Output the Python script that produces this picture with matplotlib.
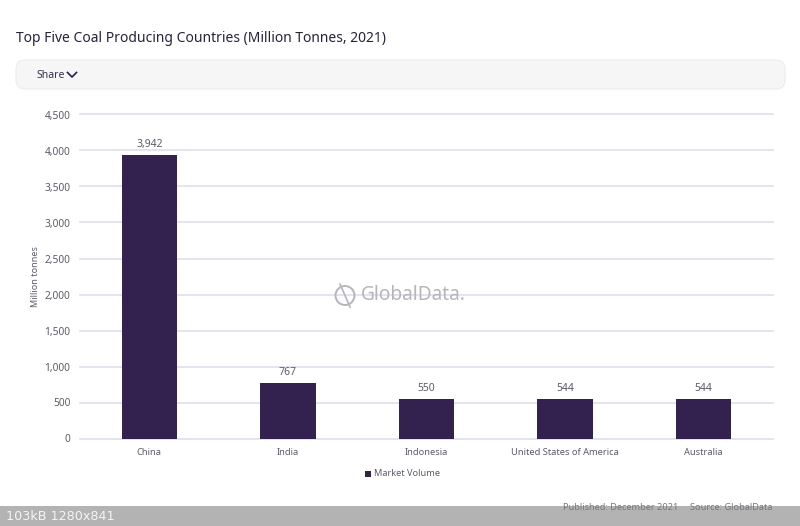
import matplotlib
matplotlib.use('Agg')
import matplotlib.pyplot as plt
from matplotlib.patches import FancyBboxPatch, Rectangle, Circle

countries = ['China', 'India', 'Indonesia', 'United States of America', 'Australia']
volumes = [3942, 767, 550, 544, 544]
value_labels = ['3,942', '767', '550', '544', '544']
yticks = [0, 500, 1000, 1500, 2000, 2500, 3000, 3500, 4000, 4500]
ytick_labels = ['0', '500', '1,000', '1,500', '2,000', '2,500', '3,000', '3,500', '4,000', '4,500']

plt.rcParams['font.family'] = ['Noto Sans', 'DejaVu Sans']
W = 800
H = 526
dark = '#33224f'
grey_text = '#5c5a6b'

fig = plt.figure(figsize=(W/100, H/100), dpi=100)
ax = fig.add_axes([80/W, 1-438.5/H, 693/W, 324/H])

ax.bar(range(5), volumes, width=0.4, color=dark, zorder=3)
for i in range(5):
    ax.annotate(value_labels[i], (i, volumes[i]), xytext=(0, 3.5), textcoords='offset points',
                ha='center', va='bottom', fontsize=7.5, color=grey_text)

ax.set_xlim(-0.5, 4.5)
ax.set_ylim(0, 4500)
ax.set_yticks(yticks)
ax.set_yticklabels(ytick_labels, fontsize=7.3, color=grey_text)
ax.set_xticks(range(5))
ax.set_xticklabels(countries, fontsize=6.7, color=grey_text)
ax.tick_params(axis='both', length=0)
ax.tick_params(axis='y', pad=7)
ax.tick_params(axis='x', pad=7)
ax.grid(axis='y', color='#e0daee', lw=1.1, zorder=1, clip_on=False)
ax.set_axisbelow(True)
for s in ax.spines.values():
    s.set_visible(False)
ax.set_ylabel('Million tonnes', fontsize=6.5, color=grey_text)
ax.yaxis.set_label_coords((40-80)/693, 0.5)

# everything outside the plot, placed in pixels
bg = fig.add_axes([0, 0, 1, 1], zorder=5)
bg.set_xlim(0, W)
bg.set_ylim(H, 0)
bg.axis('off')
bg.patch.set_alpha(0)

bg.text(16, 38, 'Top Five Coal Producing Countries (Million Tonnes, 2021)', fontsize=10,
        color='#25233f', va='center', ha='left')
bg.add_patch(FancyBboxPatch((16, 60), 769, 29, boxstyle='round,pad=0,rounding_size=9',
                            fc='#f6f6f7', ec='#ececef', lw=0.8))
bg.text(36.5, 75, 'Share', fontsize=7.5, color='#33324a', va='center', ha='left')
bg.plot([67.5, 72, 76.5], [72.5, 77, 72.5], color='#25233f', lw=1.2)

# watermark
bg.add_patch(Circle((345, 295.5), 9.5, fc='none', ec='#b5b5bd', lw=1.4))
bg.plot([340, 350], [284, 307], color='#b5b5bd', lw=1.2)
bg.text(361, 295.5, 'GlobalData.', fontsize=13.8, color='#b5b5bd', va='center', ha='left')

# legend
bg.add_patch(Rectangle((365, 471), 6, 6, fc=dark, ec='none'))
bg.text(374, 474, 'Market Volume', fontsize=6.6, color=grey_text, va='center', ha='left')

# bottom strip
bg.add_patch(Rectangle((0, 506), W, 20, fc='#b3b3b3', ec='none'))
bg.text(563, 507, 'Published: December 2021', fontsize=6.6, color='#77767f', va='center', ha='left')
bg.text(690, 507, 'Source: GlobalData', fontsize=6.6, color='#77767f', va='center', ha='left')
bg.text(6, 516, '103kB 1280x841', fontsize=9.2, color='#f4f4f4', va='center', ha='left', family='DejaVu Sans')

fig.savefig('out.png', dpi=100)
